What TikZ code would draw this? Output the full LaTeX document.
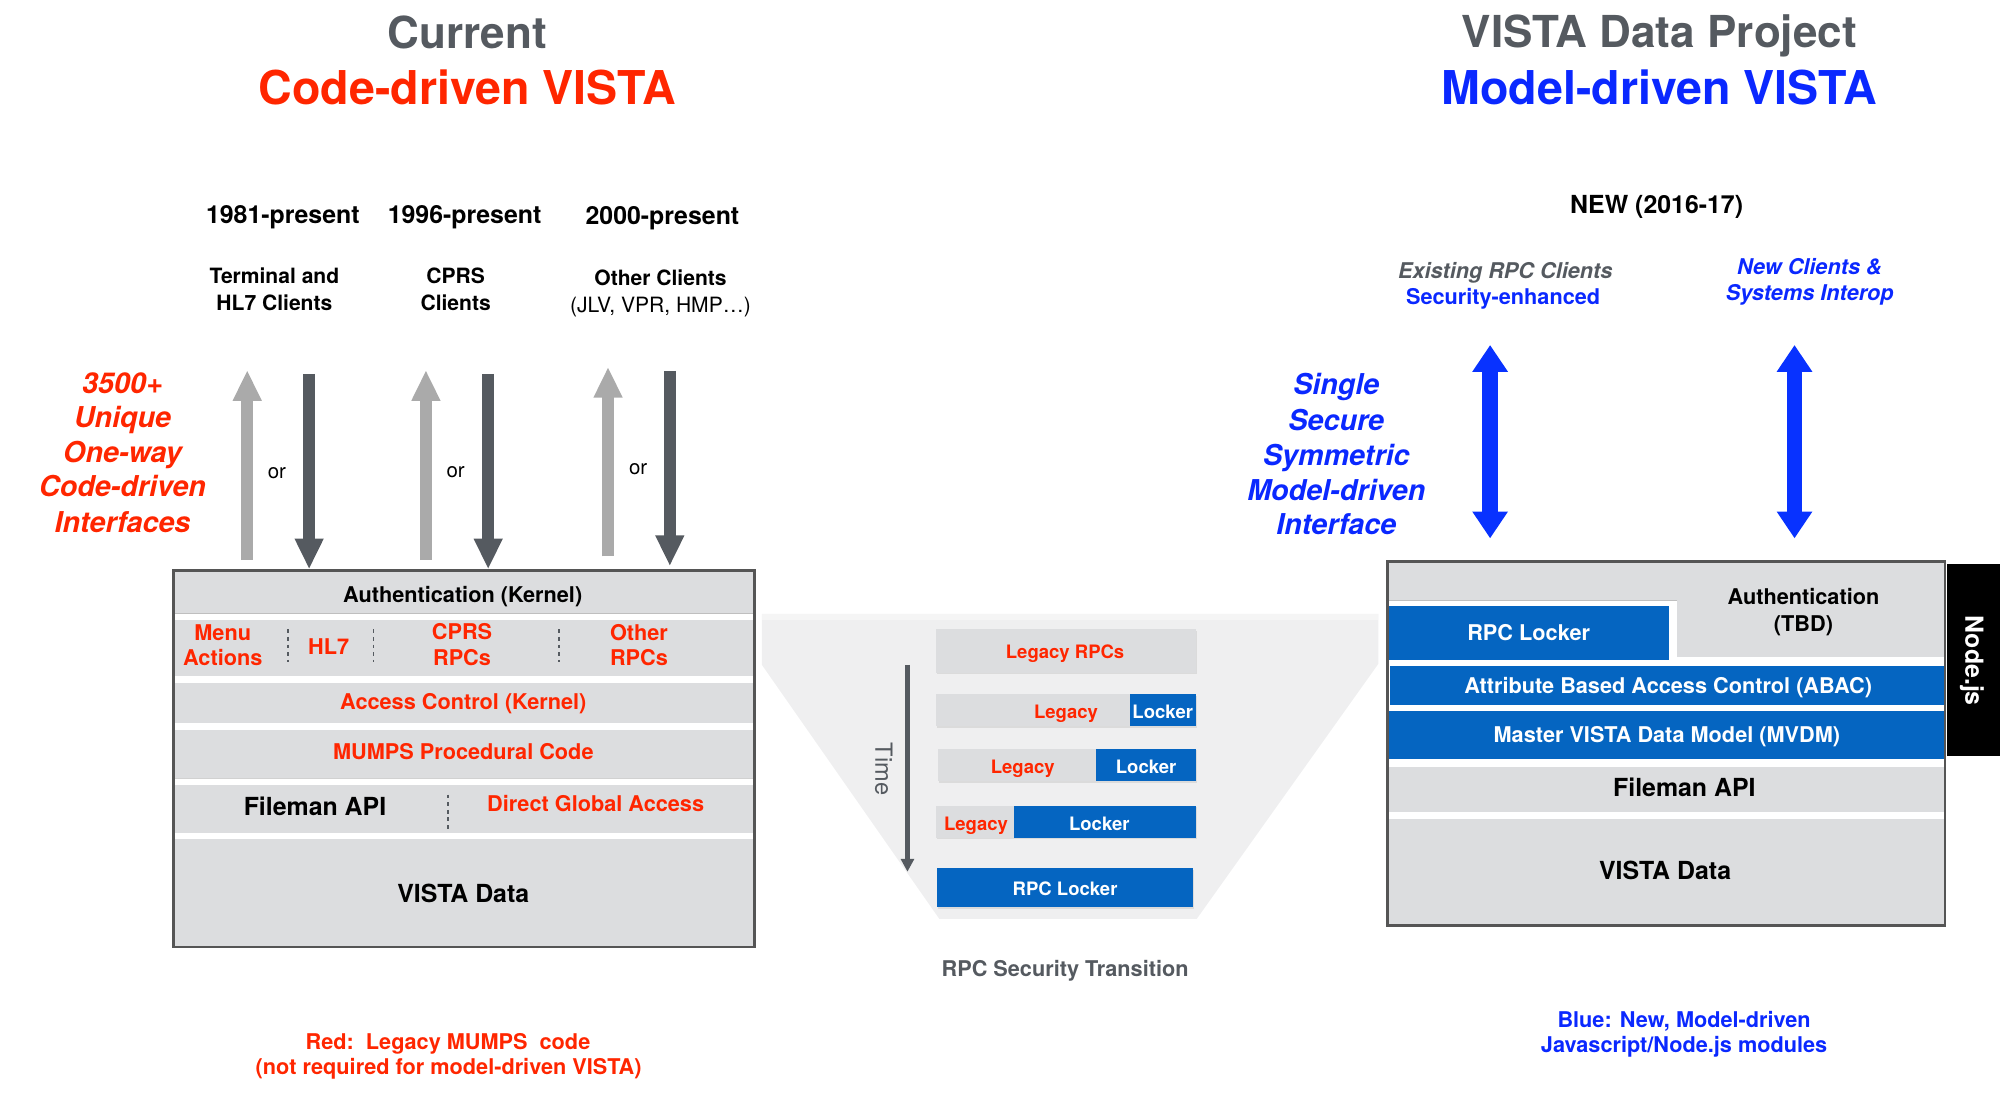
\documentclass[tikz,border=0pt]{standalone}
\usepackage{fontspec}
\setmainfont{TeX Gyre Heros}
\usetikzlibrary{arrows.meta}
\definecolor{vred}{RGB}{255,38,0}
\definecolor{vblue}{RGB}{10,40,255}
\definecolor{ablue}{RGB}{8,50,255}
\definecolor{blk}{RGB}{5,101,193}
\definecolor{tgray}{RGB}{85,90,96}
\definecolor{band}{RGB}{220,221,223}
\definecolor{trap}{RGB}{239,239,240}
\definecolor{upgray}{RGB}{170,170,170}
\definecolor{bord}{RGB}{85,85,85}
\newcommand\fs[1]{\fontsize{#1}{#1}\selectfont}
\begin{document}
\begin{tikzpicture}[x=1pt,y=-1pt,
  every node/.style={inner sep=0pt,outer sep=0pt},
  tb/.style={anchor=base,font=\bfseries\fs{17}},
  tr/.style={tb,text=vred},
  tw/.style={tb,text=white},
  tbl/.style={tb,text=vblue},
  big/.style={anchor=base,font=\bfseries\fs{19.5}},
  hdr/.style={anchor=base,font=\bfseries\fs{19.5}},
  cli/.style={anchor=base,font=\bfseries\fs{16.5}},
  bi/.style={anchor=base,font=\bfseries\itshape\fs{22.5}},
  barT/.style={anchor=base,font=\bfseries\fs{14.5}},
  ortext/.style={anchor=base,font=\fs{16}},
  uparrow/.style={line width=9pt,upgray,-{Triangle[width=21pt,length=24pt]}},
  downarrow/.style={line width=9pt,tgray,-{Triangle[width=21pt,length=24pt]}},
  dblarrow/.style={line width=12pt,ablue,{Triangle[width=26.5pt,length=21pt]}-{Triangle[width=26.5pt,length=21pt]}},
  sep/.style={line width=1.2pt,tgray,dash pattern=on 3pt off 3pt},
  boxborder/.style={draw=bord,line width=2pt},
  shadowbar/.style={fill=black!14}
]
\useasboundingbox (0,0) rectangle (1567,860.3);

% ---------------- titles
\node[anchor=base,font=\bfseries\fs{34.5},text=tgray] (tcur) at (366,37.9) {Current};
\node[anchor=base,font=\bfseries\fs{36.5},text=vred] (tcode) at (366,81.5) {Code-driven VISTA};
\node[anchor=base,font=\bfseries\fs{34.5},text=tgray] (tvdp) at (1300,37.5) {VISTA Data Project};
\node[anchor=base,font=\bfseries\fs{36.5},text=vblue] (tmod) at (1300,81.5) {Model-driven VISTA};

% ---------------- left headers
\node[hdr] (h1) at (221.6,175) {1981-present};
\node[hdr] (h2) at (364,175) {1996-present};
\node[hdr] (h3) at (519,176) {2000-present};
\node[cli] (c1a) at (215,222) {Terminal and};
\node[cli] (c1b) at (215,243) {HL7 Clients};
\node[cli] (c2a) at (357,222) {CPRS};
\node[cli] (c2b) at (357,243) {Clients};
\node[cli] (c3a) at (517.5,224) {Other Clients};
\node[anchor=base,font=\fs{16.5}] (c3b) at (517.5,244.5) {(JLV, VPR, HMP…)};

\node[bi,text=vred] (ri1) at (96,308) {3500+};
\node[bi,text=vred] (ri2) at (96,335) {Unique};
\node[bi,text=vred] (ri3) at (96,362) {One-way};
\node[bi,text=vred] (ri4) at (96,389) {Code-driven};
\node[bi,text=vred] (ri5) at (96,417) {Interfaces};

% ---------------- left arrows
\coordinate (u1s) at (193.7,438.8); \coordinate (u1e) at (193.7,290);
\coordinate (d1s) at (242.2,293);   \coordinate (d1e) at (242.2,446);
\coordinate (u2s) at (333.7,438.8); \coordinate (u2e) at (333.7,290);
\coordinate (d2s) at (382.5,293);   \coordinate (d2e) at (382.5,446);
\coordinate (u3s) at (476.4,436);   \coordinate (u3e) at (476.4,287.5);
\coordinate (d3s) at (524.8,290.5); \coordinate (d3e) at (524.8,443.5);
\draw[uparrow] (u1s) -- (u1e);
\draw[downarrow] (d1s) -- (d1e);
\draw[uparrow] (u2s) -- (u2e);
\draw[downarrow] (d2s) -- (d2e);
\draw[uparrow] (u3s) -- (u3e);
\draw[downarrow] (d3s) -- (d3e);
\node[ortext] (or1) at (217,375) {or};
\node[ortext] (or2) at (357,374) {or};
\node[ortext] (or3) at (500,372) {or};

% ---------------- left box
\fill[band] (137,448) rectangle (590,480.5);
\draw[black!25,line width=0.8pt] (137,480.5) -- (590,480.5);
\fill[band] (137,485.8) rectangle (590,529.7);
\fill[band] (137,535.4) rectangle (590,566.2);
\fill[band] (137,572) rectangle (590,610);
\draw[black!18,line width=0.8pt] (137,610) -- (590,610);
\fill[band] (137,615) rectangle (590,652.4);
\fill[band] (137,657) rectangle (590,741);
\draw[boxborder] (136,447) rectangle (591,742);

\node[tb] (lauth) at (362.5,471.9) {Authentication (Kernel)};
\node[tr] (menu1) at (174.5,501.5) {Menu};
\node[tr] (menu2) at (174.5,521.6) {Actions};
\node[tr] (hl7) at (257.5,512.7) {HL7};
\node[tr] (cprs1) at (362,501.3) {CPRS};
\node[tr] (cprs2) at (362,521.3) {RPCs};
\node[tr] (oth1) at (500.6,501.5) {Other};
\node[tr] (oth2) at (500.6,521.6) {RPCs};
\coordinate (s1a) at (225.5,493); \coordinate (s1b) at (225.5,519);
\coordinate (s2a) at (292.5,493); \coordinate (s2b) at (292.5,519);
\coordinate (s3a) at (438,493);   \coordinate (s3b) at (438,519);
\coordinate (s4a) at (351,622.5); \coordinate (s4b) at (351,651);
\draw[sep] (s1a) -- (s1b);
\draw[sep] (s2a) -- (s2b);
\draw[sep] (s3a) -- (s3b);
\draw[sep] (s4a) -- (s4b);
\node[tr] (acc) at (363,555.8) {Access Control (Kernel)};
\node[tr] (mumps) at (363,595) {MUMPS Procedural Code};
\node[big] (lfm) at (246.8,639.1) {Fileman API};
\node[tr] (dga) at (466.7,636) {Direct Global Access};
\node[big] (lvd) at (363,707) {VISTA Data};

% ---------------- middle transition
\fill[trap] (597,481) -- (1080,481) -- (1080,520) -- (937.6,720) -- (736,720) -- (597,521) -- cycle;
\fill[black!4] (597,481) rectangle (1080,486);

\fill[shadowbar] (734,494) rectangle (937.8,528.2);
\fill[band] (733.4,493) rectangle (937,527);
\node[barT,text=vred] (lr) at (834.5,515.8) {Legacy RPCs};

\fill[shadowbar] (734,545) rectangle (937.8,570.2);
\fill[band] (733.4,544) rectangle (885.4,569);
\fill[blk] (885.4,544) rectangle (937,569);
\node[barT,text=vred] (lg2) at (835.2,562.8) {Legacy};
\node[barT,text=white] (lk2) at (911,562.8) {Locker};

\fill[shadowbar] (735.6,588) rectangle (937.8,613.2);
\fill[band] (735,587) rectangle (858.7,612);
\fill[blk] (858.7,587) rectangle (937,612);
\node[barT,text=vred] (lg3) at (801.3,606.4) {Legacy};
\node[barT,text=white] (lk3) at (898,606.4) {Locker};

\fill[shadowbar] (734,632.5) rectangle (937.8,657.5);
\fill[band] (733.4,631.5) rectangle (794.5,656.3);
\fill[blk] (794.5,631.5) rectangle (937,656.3);
\node[barT,text=vred] (lg4) at (764.7,650.3) {Legacy};
\node[barT,text=white] (lk4) at (861.3,650.3) {Locker};

\fill[shadowbar] (734.8,681.3) rectangle (935.3,712.2);
\fill[blk] (734.2,680.3) rectangle (934.5,711);
\node[barT,text=white] (rl) at (834.5,702) {RPC Locker};

\coordinate (ts) at (711,521); \coordinate (te) at (711,683);
\draw[line width=3.9pt,tgray,-{Triangle[width=10pt,length=10pt]}] (ts) -- (te);
\node[font=\fs{18.5},text=tgray,rotate=-90] (time) at (692.5,602.5) {Time};
\node[anchor=base,font=\bfseries\fs{17},text=tgray] (rst) at (834.5,765) {RPC Security Transition};

% ---------------- right headers
\node[hdr] (new) at (1298,167) {NEW (2016-17)};
\node[anchor=base,font=\bfseries\itshape\fs{17},text=tgray] (ex1) at (1179.4,218) {Existing RPC Clients};
\node[tbl] (ex2) at (1177.7,238.2) {Security-enhanced};
\node[anchor=base,font=\bfseries\itshape\fs{17},text=vblue] (nc1) at (1417.7,215) {New Clients \&};
\node[anchor=base,font=\bfseries\itshape\fs{17},text=vblue] (nc2) at (1418,235.8) {Systems Interop};

\node[bi,text=vblue] (bi1) at (1047,309) {Single};
\node[bi,text=vblue] (bi2) at (1047,337) {Secure};
\node[bi,text=vblue] (bi3) at (1047,364.5) {Symmetric};
\node[bi,text=vblue] (bi4) at (1047,392.3) {Model-driven};
\node[bi,text=vblue] (bi5) at (1047,418.6) {Interface};

\coordinate (a1t) at (1167.5,270.3); \coordinate (a1b) at (1167.5,421.8);
\coordinate (a2t) at (1406,270.3);   \coordinate (a2b) at (1406,421.8);
\draw[dblarrow] (a1t) -- (a1b);
\draw[dblarrow] (a2t) -- (a2b);

% ---------------- right box
\fill[band] (1088,441) rectangle (1523,515);
\fill[white] (1088,470.5) rectangle (1314,521.6);
\draw[black!25,line width=0.8pt] (1088,470.5) -- (1314,470.5);
\fill[blk] (1088,474.7) rectangle (1307.8,517);
\fill[blk] (1089,521.6) rectangle (1524,552);
\fill[blk] (1088,556.8) rectangle (1524,594.7);
\fill[band] (1088,600.7) rectangle (1523,636.4);
\fill[band] (1088,641.6) rectangle (1523,724);
\draw[boxborder] (1087,440) rectangle (1524,725);
\fill[black] (1525.5,441.6) rectangle (1567,592);

\node[tb] (rauth1) at (1413,473.9) {Authentication};
\node[tb] (rauth2) at (1413,494.8) {(TBD)};
\node[tw] (rrpc) at (1197.7,501.5) {RPC Locker};
\node[tw] (abac) at (1307,543.3) {Attribute Based Access Control (ABAC)};
\node[tw] (mvdm) at (1306,581.6) {Master VISTA Data Model (MVDM)};
\node[big] (rfm) at (1319.7,624.1) {Fileman API};
\node[big] (rvd) at (1304.6,689.3) {VISTA Data};
\node[font=\bfseries\fs{19.5},text=white,rotate=-90] (node) at (1545,517.7) {Node.js};

% ---------------- bottom notes
\node[tr] (n1) at (351,822) {Red:\ \ Legacy MUMPS\ \ code};
\node[tr] (n2) at (351.5,842) {(not required for model-driven VISTA)};
\node[tbl] (n3) at (1319.5,805) {Blue: New, Model-driven};
\node[tbl] (n4) at (1319.5,825) {Javascript/Node.js modules};
\end{tikzpicture}
\end{document}
